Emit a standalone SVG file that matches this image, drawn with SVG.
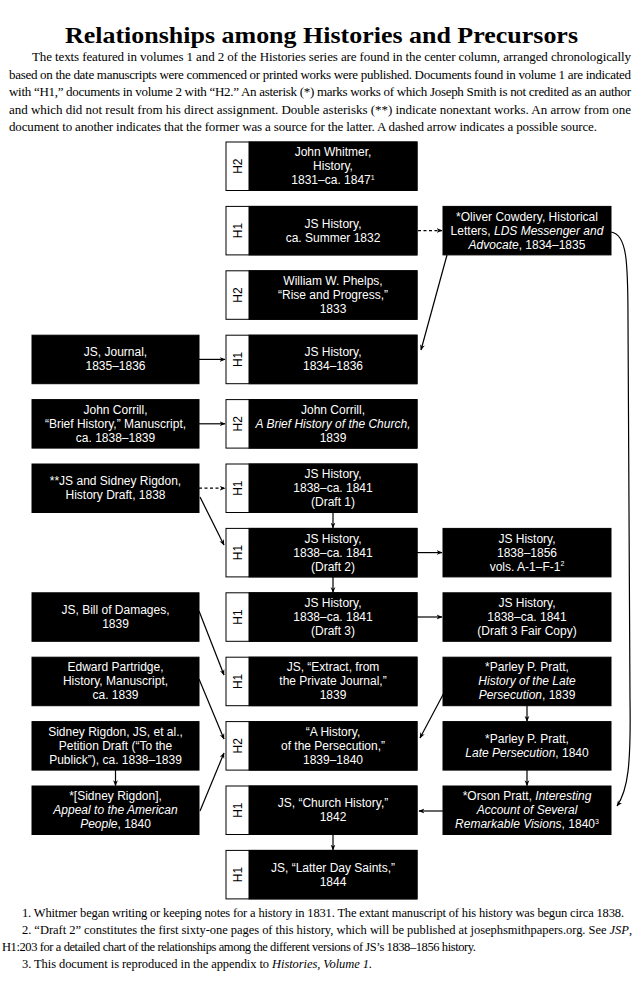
<svg xmlns="http://www.w3.org/2000/svg" width="643" height="1000" viewBox="0 0 643 1000">
<style>
.bg{fill:#fff}
.bx{fill:#000;stroke:#000;stroke-width:1}
.tab{fill:#fff;stroke:#000;stroke-width:1}
.t{font-family:"Liberation Sans",Arial,sans-serif;font-size:12px;fill:#fff;text-anchor:middle}
.h{font-family:"Liberation Sans",Arial,sans-serif;font-size:12px;fill:#000;text-anchor:middle}
.i{font-style:italic}
.sup{font-size:7px}
.c{fill:none;stroke:#000;stroke-width:1.2;marker-end:url(#ah)}
.d{stroke-dasharray:3 2.5}
.title{font-family:"Liberation Serif","Times New Roman",serif;font-size:24px;font-weight:bold;fill:#000;text-anchor:middle}
.p{font-family:"Liberation Serif","Times New Roman",serif;font-size:13px;fill:#000}
.fn{font-family:"Liberation Serif","Times New Roman",serif;font-size:12.5px;fill:#000}
</style>
<defs>
<marker id="ah" viewBox="0 0 10 10" refX="9" refY="5" markerWidth="6" markerHeight="6" orient="auto" markerUnits="userSpaceOnUse">
<path d="M0,1 L10,5 L0,9 L3,5 z" fill="#000"/>
</marker>
</defs>
<rect class="bg" x="0" y="0" width="643" height="1000"/>

<g id="header">
<text class="title" x="321.5" y="43" textLength="513" lengthAdjust="spacingAndGlyphs">Relationships among Histories and Precursors</text>
<text class="p" x="32" y="61" textLength="599" lengthAdjust="spacing">The texts featured in volumes 1 and 2 of the Histories series are found in the center column, arranged chronologically</text>
<text class="p" x="9" y="78.5" textLength="622" lengthAdjust="spacing">based on the date manuscripts were commenced or printed works were published. Documents found in volume 1 are indicated</text>
<text class="p" x="9" y="96" textLength="622" lengthAdjust="spacing">with “H1,” documents in volume 2 with “H2.” An asterisk (*) marks works of which Joseph Smith is not credited as an author</text>
<text class="p" x="9" y="113.5" textLength="622" lengthAdjust="spacing">and which did not result from his direct assignment. Double asterisks (**) indicate nonextant works. An arrow from one</text>
<text class="p" x="9" y="131" textLength="588" lengthAdjust="spacing">document to another indicates that the former was a source for the latter. A dashed arrow indicates a possible source.</text>
</g>

<g id="connectors">
<path class="c d" d="M418,230.6 L442,230.6"/>
<path class="c" d="M447,255 L421,350"/>
<path class="c" d="M611,232 C627,234 628,262 628,320 L630,700 C631,765 628,790 617,806"/>
<path class="c" d="M199,359.4 L225,359.4"/>
<path class="c" d="M199,423.8 L225,423.8"/>
<path class="c d" d="M199,488.2 L225,488.2"/>
<path class="c" d="M200,497 L224,545"/>
<path class="c" d="M333,512.5 L333,528"/>
<path class="c" d="M333,577 L333,592.5"/>
<path class="c" d="M417,552.6 L442,552.6"/>
<path class="c" d="M417,617 L442,617"/>
<path class="c" d="M199,611 L224,675"/>
<path class="c" d="M199,679 L224,739"/>
<path class="c" d="M446,689 L420,738"/>
<path class="c" d="M527,705.7 L527,721.3"/>
<path class="c" d="M527,770 L527,785.7"/>
<path class="c" d="M443,811 L419,811"/>
<path class="c" d="M115.5,770 L115.5,785.7"/>
<path class="c" d="M200,811 L224,753"/>
<path class="c" d="M333,834.5 L333,850"/>
</g>

<!-- center column -->
<g id="c0">
<rect class="tab" x="226" y="142" width="191" height="48.5"/><rect class="bx" x="249" y="142" width="168" height="48.5"/>
<text class="h" transform="translate(237.5,166.2) rotate(-90)" y="4.3">H2</text>
<text class="t"><tspan x="333" y="156.2">John Whitmer,</tspan><tspan x="333" y="170.2">History,</tspan><tspan x="333" y="184.2">1831–ca. 1847<tspan class="sup" dy="-4.5">1</tspan></tspan></text>
</g>
<g id="c1">
<rect class="tab" x="226" y="206.4" width="191" height="48.5"/><rect class="bx" x="249" y="206.4" width="168" height="48.5"/>
<text class="h" transform="translate(237.5,230.6) rotate(-90)" y="4.3">H1</text>
<text class="t"><tspan x="333" y="227.6">JS History,</tspan><tspan x="333" y="241.6">ca. Summer 1832</tspan></text>
</g>
<g id="c2">
<rect class="tab" x="226" y="270.8" width="191" height="48.5"/><rect class="bx" x="249" y="270.8" width="168" height="48.5"/>
<text class="h" transform="translate(237.5,295) rotate(-90)" y="4.3">H2</text>
<text class="t"><tspan x="333" y="285">William W. Phelps,</tspan><tspan x="333" y="299">“Rise and Progress,”</tspan><tspan x="333" y="313">1833</tspan></text>
</g>
<g id="c3">
<rect class="tab" x="226" y="335.2" width="191" height="48.5"/><rect class="bx" x="249" y="335.2" width="168" height="48.5"/>
<text class="h" transform="translate(237.5,359.4) rotate(-90)" y="4.3">H1</text>
<text class="t"><tspan x="333" y="356.4">JS History,</tspan><tspan x="333" y="370.4">1834–1836</tspan></text>
</g>
<g id="c4">
<rect class="tab" x="226" y="399.6" width="191" height="48.5"/><rect class="bx" x="249" y="399.6" width="168" height="48.5"/>
<text class="h" transform="translate(237.5,423.8) rotate(-90)" y="4.3">H2</text>
<text class="t"><tspan x="333" y="413.8">John Corrill,</tspan><tspan x="333" y="427.8" class="i">A Brief History of the Church,</tspan><tspan x="333" y="441.8">1839</tspan></text>
</g>
<g id="c5">
<rect class="tab" x="226" y="464" width="191" height="48.5"/><rect class="bx" x="249" y="464" width="168" height="48.5"/>
<text class="h" transform="translate(237.5,488.2) rotate(-90)" y="4.3">H1</text>
<text class="t"><tspan x="333" y="478.2">JS History,</tspan><tspan x="333" y="492.2">1838–ca. 1841</tspan><tspan x="333" y="506.2">(Draft 1)</tspan></text>
</g>
<g id="c6">
<rect class="tab" x="226" y="528.4" width="191" height="48.5"/><rect class="bx" x="249" y="528.4" width="168" height="48.5"/>
<text class="h" transform="translate(237.5,552.6) rotate(-90)" y="4.3">H1</text>
<text class="t"><tspan x="333" y="542.6">JS History,</tspan><tspan x="333" y="556.6">1838–ca. 1841</tspan><tspan x="333" y="570.6">(Draft 2)</tspan></text>
</g>
<g id="c7">
<rect class="tab" x="226" y="592.8" width="191" height="48.5"/><rect class="bx" x="249" y="592.8" width="168" height="48.5"/>
<text class="h" transform="translate(237.5,617) rotate(-90)" y="4.3">H1</text>
<text class="t"><tspan x="333" y="607">JS History,</tspan><tspan x="333" y="621">1838–ca. 1841</tspan><tspan x="333" y="635">(Draft 3)</tspan></text>
</g>
<g id="c8">
<rect class="tab" x="226" y="657.2" width="191" height="48.5"/><rect class="bx" x="249" y="657.2" width="168" height="48.5"/>
<text class="h" transform="translate(237.5,681.4) rotate(-90)" y="4.3">H1</text>
<text class="t"><tspan x="333" y="671.4">JS, “Extract, from</tspan><tspan x="333" y="685.4">the Private Journal,”</tspan><tspan x="333" y="699.4">1839</tspan></text>
</g>
<g id="c9">
<rect class="tab" x="226" y="721.6" width="191" height="48.5"/><rect class="bx" x="249" y="721.6" width="168" height="48.5"/>
<text class="h" transform="translate(237.5,745.8) rotate(-90)" y="4.3">H2</text>
<text class="t"><tspan x="333" y="735.8">“A History,</tspan><tspan x="333" y="749.8">of the Persecution,”</tspan><tspan x="333" y="763.8">1839–1840</tspan></text>
</g>
<g id="c10">
<rect class="tab" x="226" y="786" width="191" height="48.5"/><rect class="bx" x="249" y="786" width="168" height="48.5"/>
<text class="h" transform="translate(237.5,810.2) rotate(-90)" y="4.3">H1</text>
<text class="t"><tspan x="333" y="807.2">JS, “Church History,”</tspan><tspan x="333" y="821.2">1842</tspan></text>
</g>
<g id="c11">
<rect class="tab" x="226" y="850.4" width="191" height="48.5"/><rect class="bx" x="249" y="850.4" width="168" height="48.5"/>
<text class="h" transform="translate(237.5,874.6) rotate(-90)" y="4.3">H1</text>
<text class="t"><tspan x="333" y="871.6">JS, “Latter Day Saints,”</tspan><tspan x="333" y="885.6">1844</tspan></text>
</g>

<!-- left column -->
<g id="l3">
<rect class="bx" x="32" y="335.2" width="167" height="48.5"/>
<text class="t"><tspan x="115.5" y="356.4">JS, Journal,</tspan><tspan x="115.5" y="370.4">1835–1836</tspan></text>
</g>
<g id="l4">
<rect class="bx" x="32" y="399.6" width="167" height="48.5"/>
<text class="t"><tspan x="115.5" y="413.8">John Corrill,</tspan><tspan x="115.5" y="427.8">“Brief History,” Manuscript,</tspan><tspan x="115.5" y="441.8">ca. 1838–1839</tspan></text>
</g>
<g id="l5">
<rect class="bx" x="32" y="464" width="167" height="48.5"/>
<text class="t"><tspan x="115.5" y="485.2">**JS and Sidney Rigdon,</tspan><tspan x="115.5" y="499.2">History Draft, 1838</tspan></text>
</g>
<g id="l7">
<rect class="bx" x="32" y="592.8" width="167" height="48.5"/>
<text class="t"><tspan x="115.5" y="614">JS, Bill of Damages,</tspan><tspan x="115.5" y="628">1839</tspan></text>
</g>
<g id="l8">
<rect class="bx" x="32" y="657.2" width="167" height="48.5"/>
<text class="t"><tspan x="115.5" y="671.4">Edward Partridge,</tspan><tspan x="115.5" y="685.4">History, Manuscript,</tspan><tspan x="115.5" y="699.4">ca. 1839</tspan></text>
</g>
<g id="l9">
<rect class="bx" x="32" y="721.6" width="167" height="48.5"/>
<text class="t"><tspan x="115.5" y="735.8">Sidney Rigdon, JS, et al.,</tspan><tspan x="115.5" y="749.8">Petition Draft (“To the</tspan><tspan x="115.5" y="763.8">Publick”), ca. 1838–1839</tspan></text>
</g>
<g id="l10">
<rect class="bx" x="32" y="786" width="167" height="48.5"/>
<text class="t"><tspan x="115.5" y="800.2">*[Sidney Rigdon],</tspan><tspan x="115.5" y="814.2" class="i">Appeal to the American</tspan><tspan x="115.5" y="828.2"><tspan class="i">People</tspan>, 1840</tspan></text>
</g>

<!-- right column -->
<g id="r1">
<rect class="bx" x="443" y="206.4" width="168" height="48.5"/>
<text class="t"><tspan x="527" y="220.6">*Oliver Cowdery, Historical</tspan><tspan x="527" y="234.6">Letters, <tspan class="i">LDS Messenger and</tspan></tspan><tspan x="527" y="248.6"><tspan class="i">Advocate</tspan>, 1834–1835</tspan></text>
</g>
<g id="r6">
<rect class="bx" x="443" y="528.4" width="168" height="48.5"/>
<text class="t"><tspan x="527" y="542.6">JS History,</tspan><tspan x="527" y="556.6">1838–1856</tspan><tspan x="527" y="570.6">vols. A-1–F-1<tspan class="sup" dy="-4.5">2</tspan></tspan></text>
</g>
<g id="r7">
<rect class="bx" x="443" y="592.8" width="168" height="48.5"/>
<text class="t"><tspan x="527" y="607">JS History,</tspan><tspan x="527" y="621">1838–ca. 1841</tspan><tspan x="527" y="635">(Draft 3 Fair Copy)</tspan></text>
</g>
<g id="r8">
<rect class="bx" x="443" y="657.2" width="168" height="48.5"/>
<text class="t"><tspan x="527" y="671.4">*Parley P. Pratt,</tspan><tspan x="527" y="685.4" class="i">History of the Late</tspan><tspan x="527" y="699.4"><tspan class="i">Persecution</tspan>, 1839</tspan></text>
</g>
<g id="r9">
<rect class="bx" x="443" y="721.6" width="168" height="48.5"/>
<text class="t"><tspan x="527" y="742.8">*Parley P. Pratt,</tspan><tspan x="527" y="756.8"><tspan class="i">Late Persecution</tspan>, 1840</tspan></text>
</g>
<g id="r10">
<rect class="bx" x="443" y="786" width="168" height="48.5"/>
<text class="t"><tspan x="527" y="800.2">*Orson Pratt, <tspan class="i">Interesting</tspan></tspan><tspan x="527" y="814.2" class="i">Account of Several</tspan><tspan x="527" y="828.2"><tspan class="i">Remarkable Visions</tspan>, 1840<tspan class="sup" dy="-4.5">3</tspan></tspan></text>
</g>

<g id="footnotes">
<text class="fn" x="22" y="917" textLength="602" lengthAdjust="spacing">1. Whitmer began writing or keeping notes for a history in 1831. The extant manuscript of his history was begun circa 1838.</text>
<text class="fn" x="22" y="934" textLength="610" lengthAdjust="spacing">2. “Draft 2” constitutes the first sixty-one pages of this history, which will be published at josephsmithpapers.org. See <tspan class="i">JSP</tspan>,</text>
<text class="fn" x="2" y="951" textLength="474" lengthAdjust="spacing">H1:203 for a detailed chart of the relationships among the different versions of JS’s 1838–1856 history.</text>
<text class="fn" x="22" y="968" textLength="350" lengthAdjust="spacing">3. This document is reproduced in the appendix to <tspan class="i">Histories, Volume 1.</tspan></text>
</g>
</svg>
